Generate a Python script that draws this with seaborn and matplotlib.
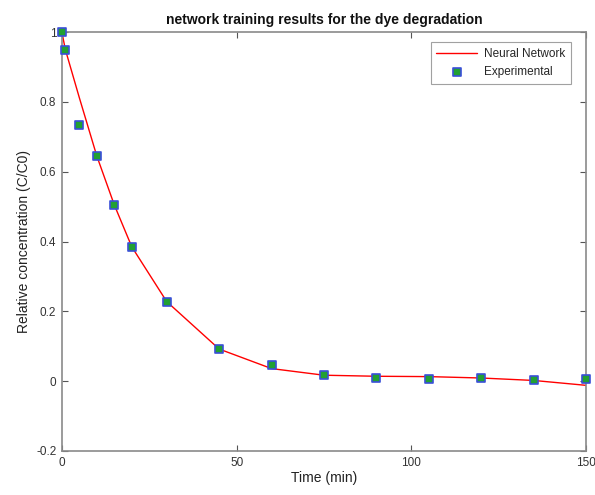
import matplotlib
matplotlib.use("Agg")
import matplotlib.pyplot as plt
import seaborn as sns
import pandas as pd

time_min = [0, 1, 5, 10, 15, 20, 30, 45, 60, 75, 90, 105, 120, 135, 150]
experimental = [1.0, 0.948, 0.735, 0.645, 0.505, 0.385, 0.228, 0.092, 0.047, 0.017, 0.010, 0.007, 0.009, 0.004, 0.005]
neural_network = [1.0, 0.950, 0.812, 0.645, 0.505, 0.385, 0.228, 0.092, 0.036, 0.017, 0.014, 0.013, 0.009, 0.002, -0.012]

sns.set_theme(style="white")
plt.rcParams['font.family'] = ['Liberation Sans', 'DejaVu Sans']

df = pd.DataFrame({"t": time_min, "exp": experimental, "nn": neural_network})

fig = plt.figure(figsize=(5.95, 4.95), dpi=100)
ax = fig.add_axes([0.104, 0.089, 0.881, 0.846])

sns.lineplot(data=df, x="t", y="nn", ax=ax, color="#ff0000", linewidth=1.0,
             label="Neural Network")
sns.scatterplot(data=df, x="t", y="exp", ax=ax, marker="s", s=30,
                color="#22a033", edgecolor="#3a4fd8", linewidth=1.2,
                label="Experimental", zorder=3, clip_on=False)

ax.set_xlim(0, 150)
ax.set_ylim(-0.2, 1.0)
ax.set_xticks([0, 50, 100, 150])
ax.set_yticks([-0.2, 0, 0.2, 0.4, 0.6, 0.8, 1.0])
ax.set_yticklabels(["-0.2", "0", "0.2", "0.4", "0.6", "0.8", "1"])
ax.tick_params(direction="in", length=4, width=0.8, colors="#555555",
               labelcolor="#333333", labelsize=8.5, top=True, right=True,
               bottom=True, left=True, pad=4)
for sp in ax.spines.values():
    sp.set_color("#8a8a8a")
    sp.set_linewidth(1.2)

ax.set_xlabel("Time (min)", fontsize=10, color="#222222", labelpad=2)
ax.set_ylabel("Relative concentration (C/C0)", fontsize=10, color="#222222", labelpad=4)
ax.set_title("network training results for the dye degradation", fontsize=10,
             fontweight="bold", color="#111111", pad=6)

leg = ax.legend(loc="upper right", bbox_to_anchor=(0.971, 0.976), fontsize=8.5,
                frameon=True, fancybox=False, edgecolor="#8a8a8a",
                borderaxespad=0.0, handlelength=3.4, borderpad=0.5,
                handletextpad=0.6)
leg.get_frame().set_linewidth(0.8)

fig.savefig("out.png", dpi=100)
